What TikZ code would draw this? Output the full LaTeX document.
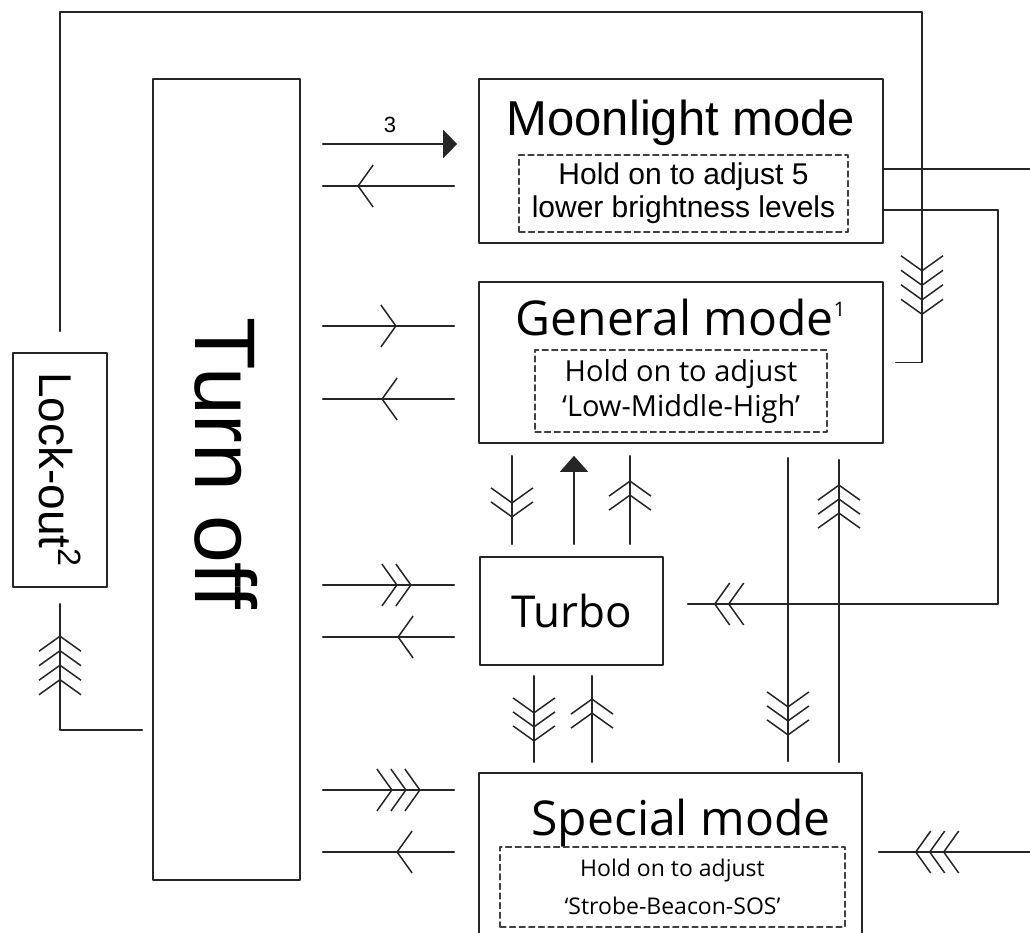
\documentclass[tikz,border=0pt]{standalone}
\usepackage{fontspec}
\setmainfont{Liberation Sans}
\newfontfamily\osans{Open Sans}
\usetikzlibrary{arrows.meta,calc,decorations.markings}
\tikzset{
  box/.style={draw=black!85, line width=0.8pt, inner sep=0pt},
  hold/.style={draw=black!75, line width=0.6pt, dash pattern=on 3pt off 1.8pt, inner sep=0pt, align=center},
  link/.style={draw=black!85, line width=0.75pt},
  ck/.tip={Straight Barb[length=7.5pt,width=21pt]},
  one/.style={postaction={decorate}, decoration={markings,
      mark=at position #1 with {\arrow{ck}}}},
  two/.style={postaction={decorate}, decoration={markings,
      mark=at position #1 with {\arrow{ck}},
      mark=at position #1+7pt with {\arrow{ck}}}},
  three/.style={postaction={decorate}, decoration={markings,
      mark=at position #1 with {\arrow{ck}},
      mark=at position #1+7pt with {\arrow{ck}},
      mark=at position #1+14pt with {\arrow{ck}}}},
  four/.style={postaction={decorate}, decoration={markings,
      mark=at position #1 with {\arrow{ck}},
      mark=at position #1+7.25pt with {\arrow{ck}},
      mark=at position #1+14.5pt with {\arrow{ck}},
      mark=at position #1+21.75pt with {\arrow{ck}}}},
}
\begin{document}
\begin{tikzpicture}[x=0.5pt, y=-0.5pt, line join=round, line cap=round]
  \useasboundingbox (0,0) rectangle (1030,933);
  % boxes
  \node[box, minimum width=73.5pt, minimum height=400.5pt, font=\fontsize{43}{43}\selectfont] (off) at (226.5,479.5) {\rotatebox{-90}{Turn off\hspace{16pt}}};
  \node[box, minimum width=47pt, minimum height=117pt, font=\fontsize{23}{23}\selectfont] (lock) at (60,470) {\rotatebox{-90}{Lock-out\textsuperscript{2}}};
  \node[box, minimum width=202pt, minimum height=82pt] (moon) at (681,161) {};
  \node[anchor=base, font=\fontsize{24.5}{24.5}\selectfont] (moontitle) at (681,135) {Moonlight mode};
  \node[hold, minimum width=164.5pt, minimum height=38.5pt, font=\fontsize{15}{16.5}\selectfont] (moonhold) at (683.5,193.5) {Hold on to adjust 5\\lower brightness levels};
  \node[box, minimum width=202pt, minimum height=80.5pt] (gen) at (681,362.5) {};
  \node[anchor=base, font=\osans\fontsize{24}{24}\selectfont] (gentitle) at (681,335) {General mode\textsuperscript{\fontsize{10}{10}\selectfont 1}};
  \node[hold, minimum width=146pt, minimum height=41pt, font=\osans\fontsize{14.5}{17.5}\selectfont] (genhold) at (681,391) {Hold on to adjust\\‘Low-Middle-High’};
  \node[box, minimum width=91.5pt, minimum height=54pt, font=\osans\fontsize{22}{22}\selectfont] (turbo) at (571.5,611) {Turbo};
  \node[box, minimum width=191.5pt, minimum height=93.5pt] (spec) at (670.5,866.5) {};
  \node[anchor=base, font=\osans\fontsize{24}{24}\selectfont] (spectitle) at (681,835) {Special mode};
  \node[hold, minimum width=172.5pt, minimum height=40pt, font=\osans\fontsize{11.5}{19}\selectfont] (spechold) at (672.5,887) {Hold on to adjust\\‘Strobe-Beacon-SOS’};
  % levels
  \foreach \n/\y in {la/144,lb/186,lc/326,ld/399,le/585,lf/637,lg/790,lh/852,mi/169,mj/210,tk/604,lo/730}
    \path (0,\y) coordinate (\n);
  \foreach \n/\x in {va/512,vb/574,vc/630,vd/534,ve/592,vf/788,vg/839,rim/998,edge/1045}
    \path (\x,0) coordinate (\n);
  \path (922,12) coordinate (top);
  % turn off <-> modes
  \draw[link, -{Triangle[length=7pt,width=14pt]}] ($(off.east |- la)+(22,0)$) -- node[above=2pt, font=\fontsize{11}{11}\selectfont] (n3) {3} ($(moon.west |- la)+(-21,0)$);
  \draw[link, one=48.5pt] ($(moon.west |- lb)+(-24,0)$) -- ($(off.east |- lb)+(22,0)$);
  \draw[link, one=37pt] ($(off.east |- lc)+(22,0)$) -- ($(gen.west |- lc)+(-24,0)$);
  \draw[link, one=36.5pt] ($(gen.west |- ld)+(-24,0)$) -- ($(off.east |- ld)+(22,0)$);
  \draw[link, two=37.5pt] ($(off.east |- le)+(22,0)$) -- ($(turbo.west |- le)+(-25,0)$);
  \draw[link, one=28.5pt] ($(turbo.west |- lf)+(-25,0)$) -- ($(off.east |- lf)+(22,0)$);
  \draw[link, three=35pt] ($(off.east |- lg)+(22,0)$) -- ($(spec.west |- lg)+(-24,0)$);
  \draw[link, one=29pt] ($(spec.west |- lh)+(-24,0)$) -- ($(off.east |- lh)+(22,0)$);
  % between modes
  \draw[link, two=24pt] ($(gen.south -| va)+(0,12)$) -- ($(turbo.north -| va)+(0,-12)$);
  \draw[link, -{Triangle[length=8pt,width=14pt]}] ($(turbo.north -| vb)+(0,-12)$) -- ($(gen.south -| vb)+(0,12)$);
  \draw[link, two=25pt] ($(turbo.north -| vc)+(0,-12)$) -- ($(gen.south -| vc)+(0,12)$);
  \draw[link, three=19pt] ($(turbo.south -| vd)+(0,10)$) -- ($(spec.north -| vd)+(0,-10)$);
  \draw[link, two=25pt] ($(spec.north -| ve)+(0,-10)$) -- ($(turbo.south -| ve)+(0,10)$);
  \draw[link, three=125pt] ($(gen.south -| vf)+(0,14)$) -- ($(spec.north -| vf)+(0,-11)$);
  \draw[link, three=125pt] ($(spec.north -| vg)+(0,-10)$) -- ($(gen.south -| vg)+(0,16)$);
  % outer loops
  \draw[link, two=-20pt] (moon.east |- mj) -| (rim |- tk) -- ($(turbo.east |- tk)+(24,0)$);
  \draw[link, three=-32pt] (moon.east |- mi) -| (edge |- lh) -- ($(spec.east |- lh)+(16,0)$);
  \draw[link, four=-37.5pt] ($(off.west |- lo)+(-10,0)$) -| ($(lock.south)+(0,16)$);
  \draw[link, four=-58.5pt] ($(lock.north)+(0,-21)$) |- (top) |- ($(gen.east)+(12,0)$);
\end{tikzpicture}
\end{document}
